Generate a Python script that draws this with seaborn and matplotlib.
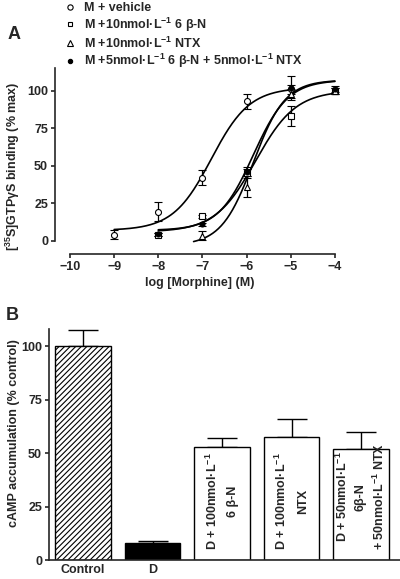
import numpy as np
import pandas as pd
import matplotlib
matplotlib.use('Agg')
import matplotlib.pyplot as plt
import seaborn as sns
from matplotlib.lines import Line2D

# ---- Panel A data: [35S]GTPgS binding vs log [Morphine] ----
veh_x = [-9, -8, -7, -6, -5]
veh_y = [4, 19.5, 42, 93, 101]
veh_err = [3, 6.5, 5, 5, 3]

bn_x = [-8, -7, -6, -5, -4]
bn_y = [4, 16.5, 45, 83, 100]
bn_err = [1, 1, 3, 6.5, 2]

ntx_x = [-7, -6, -5, -4]
ntx_y = [3.5, 36, 98, 100]
ntx_err = [3, 7, 3, 2]

combo_x = [-8, -7, -6, -5, -4]
combo_y = [4.5, 11, 46, 102, 101]
combo_err = [1, 1, 3, 8, 2]

# fitted sigmoid parameters: bottom, top, logEC50, hill, x range
veh_fit = (7, 102, -6.8, 1.0, -9, -5)
bn_fit = (6, 100, -5.8, 0.95, -8, -4)
ntx_fit = (-3, 107, -5.85, 1.2, -7.2, -4)
combo_fit = (7, 107, -5.85, 1.1, -8, -4)

# ---- Panel B data: cAMP accumulation ----
bar_names = ["Control", "D", "D+6bN", "D+NTX", "D+6bN+NTX"]
bar_ticklabels = ["Control", "D", "", "", ""]
bar_vals = [100, 8, 52.7, 57.3, 52]
bar_err = [7.5, 1, 4.5, 8.5, 8]
bar_texts = ["", "",
             "D + 100nmol·L$^{-1}$\n6 β-N",
             "D + 100nmol·L$^{-1}$\nNTX",
             "D + 50nmol·L$^{-1}$\n6β-N\n+ 50nmol·L$^{-1}$ NTX"]

sns.set_style("ticks")
plt.rcParams['font.family'] = ['Liberation Sans', 'DejaVu Sans']
plt.rcParams['font.weight'] = 'bold'
plt.rcParams['mathtext.fontset'] = 'custom'
plt.rcParams['mathtext.rm'] = 'Liberation Sans:bold'
plt.rcParams['mathtext.bf'] = 'Liberation Sans:bold'
plt.rcParams['mathtext.it'] = 'Liberation Sans:bold'
plt.rcParams['mathtext.default'] = 'rm'
plt.rcParams['hatch.linewidth'] = 0.8

FS = 9
fig = plt.figure(figsize=(4.0, 5.79), dpi=100)


def sigmoid(fit, n=200):
    bottom, top, ec50, hill, x0, x1 = fit
    xs = np.linspace(x0, x1, n)
    return xs, bottom + (top - bottom) / (1 + 10 ** ((ec50 - xs) * hill))


# ---------------- Panel A ----------------
axA = fig.add_axes([0.1375, 0.5613, 0.725, 0.3212])
series = [
    (veh_x, veh_y, veh_err, veh_fit, 'o', 'white', 4.3, "M + vehicle"),
    (bn_x, bn_y, bn_err, bn_fit, 's', 'white', 4.0, "M +10nmol·L$^{-1}$ 6 β-N"),
    (ntx_x, ntx_y, ntx_err, ntx_fit, '^', 'white', 4.5, "M +10nmol·L$^{-1}$ NTX"),
    (combo_x, combo_y, combo_err, combo_fit, 'o', 'black', 3.6,
     "M +5nmol·L$^{-1}$ 6 β-N + 5nmol·L$^{-1}$ NTX"),
]
handles = []
for xs, ys, es, fit, mk, fc, ms, lab in series:
    cx, cy = sigmoid(fit)
    sns.lineplot(x=cx, y=cy, ax=axA, color='black', linewidth=1.2)
    axA.errorbar(xs, ys, yerr=es, fmt=mk, mfc=fc, mec='black', mew=0.8,
                 ms=ms, ecolor='black', elinewidth=0.9, capsize=3.2,
                 capthick=0.9, zorder=3)
    handles.append(Line2D([], [], marker=mk, ls='none', mfc=fc, mec='black',
                          mew=0.8, ms=ms - 0.5, label=lab))

axA.set_xlim(-10.34, -3.77)
axA.set_ylim(-8.7, 115)
axA.set_xticks([-10, -9, -8, -7, -6, -5, -4])
axA.set_yticks([0, 25, 50, 75, 100])
axA.spines['left'].set_bounds(0, 115)
axA.spines['bottom'].set_bounds(-10, -4)
for s in ['top', 'right']:
    axA.spines[s].set_visible(False)
for s in ['left', 'bottom']:
    axA.spines[s].set_linewidth(1.2)
axA.tick_params(labelsize=FS, width=1.2, length=3, pad=2)
axA.set_xlabel("log [Morphine] (M)", fontsize=FS, fontweight='bold', labelpad=3)
axA.set_ylabel("[$^{35}$S]GTP$\\gamma$S binding (% max)", fontsize=FS,
               fontweight='bold')
axA.yaxis.set_label_coords(-0.113, 0.47)
fig.legend(handles=handles, loc='upper left', bbox_to_anchor=(0.15, 1.005),
           frameon=False, fontsize=FS, handlelength=0.8, handletextpad=0.7,
           labelspacing=0.12, borderaxespad=0)
fig.text(0.02, 0.94, "A", fontsize=13, fontweight='bold', va='center')

# ---------------- Panel B ----------------
axB = fig.add_axes([0.1225, 0.0328, 0.8775, 0.399])
df = pd.DataFrame({"group": bar_names, "value": bar_vals})
sns.barplot(data=df, x="group", y="value", order=bar_names, ax=axB,
            color='white', edgecolor='black', linewidth=1.0, width=0.8,
            saturation=1, errorbar=None)
patches = axB.patches
patches[0].set_hatch('//////')
patches[1].set_facecolor('black')
pos = np.arange(len(bar_names))
axB.errorbar(pos, bar_vals, yerr=[np.zeros(len(bar_vals)), bar_err], fmt='none',
             ecolor='black', elinewidth=1.0, capsize=10.5, capthick=1.0,
             zorder=0)
for p, t in zip(pos, bar_texts):
    if t:
        nlines = t.count('\n') + 1
        axB.text(p, 4.6, t, rotation=90, ha='center', va='bottom',
                 multialignment='center', fontsize=FS, fontweight='bold',
                 linespacing=1.85 if nlines == 2 else 1.45)

axB.set_xlim(-0.49, 4.56)
axB.set_ylim(0, 108)
axB.set_yticks([0, 25, 50, 75, 100])
axB.set_xticks(pos)
axB.set_xticklabels(bar_ticklabels)
axB.set_xlabel("")
axB.set_ylabel("cAMP accumulation (% control)", fontsize=FS, fontweight='bold')
axB.yaxis.set_label_coords(-0.082, 0.55)
for s in ['top', 'right']:
    axB.spines[s].set_visible(False)
for s in ['left', 'bottom']:
    axB.spines[s].set_linewidth(1.2)
axB.tick_params(axis='y', labelsize=FS, width=1.2, length=3, pad=2)
axB.tick_params(axis='x', labelsize=FS, length=0, pad=3)
fig.text(0.015, 0.455, "B", fontsize=13, fontweight='bold', va='center')

fig.savefig("out.png", dpi=100)
